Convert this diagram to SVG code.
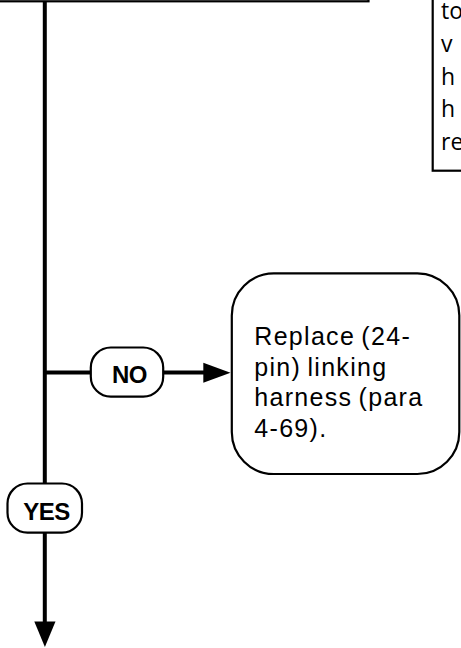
<svg xmlns="http://www.w3.org/2000/svg" width="461" height="648" viewBox="0 0 461 648">
  <defs>
    <style>
      .edge { fill: none; stroke: #000; stroke-width: 4; }
      .box { fill: #fff; stroke: #000; stroke-width: 2.2; }
      .pill { fill: #fff; stroke: #000; stroke-width: 2.2; }
      .lbl { font-family: "Liberation Sans", Arial, sans-serif; font-weight: bold; font-size: 24px; fill: #000; text-anchor: middle; letter-spacing: -0.5px; }
      .body { font-family: "Liberation Sans", Arial, sans-serif; font-size: 25px; fill: #000; letter-spacing: 1.3px; word-spacing: -2px; }
      .note { font-family: "Open Sans", "Noto Sans", sans-serif; font-size: 23px; fill: #000; }
    </style>
  </defs>

  <g id="top-box">
    <rect class="box" x="-10" y="-20" width="378.5" height="21.3" stroke-width="2.6"/>
  </g>

  <g id="note-box">
    <rect class="box" x="432.7" y="-10" width="40" height="180.7" stroke-width="2"/>
    <text class="note" x="441" y="19">to</text>
    <text class="note" x="441" y="52">v</text>
    <text class="note" x="441" y="84.5">h</text>
    <text class="note" x="441" y="117">h</text>
    <text class="note" x="441" y="150">re</text>
  </g>

  <g id="connectors">
    <line class="edge" x1="44.8" y1="1" x2="44.8" y2="623"/>
    <polygon points="34.3,621.5 55.5,621.5 44.9,647" fill="#000"/>
    <line class="edge" x1="44.8" y1="372.5" x2="205" y2="372.5"/>
    <polygon points="203.3,362.8 203.3,382.8 230.5,372.8" fill="#000"/>
  </g>

  <g id="no-label">
    <rect class="pill" x="90.8" y="347.5" width="72.4" height="49.2" rx="20" ry="20"/>
    <text class="lbl" x="129.5" y="383.3">NO</text>
  </g>

  <g id="yes-label">
    <rect class="pill" x="7.5" y="483.5" width="74.5" height="49.2" rx="20" ry="20"/>
    <text class="lbl" x="46.5" y="520">YES</text>
  </g>

  <g id="replace-box">
    <rect class="box" x="231.8" y="273.4" width="227.5" height="200.6" rx="42" ry="42"/>
    <text class="body" x="254.3" y="345">Replace (24-</text>
    <text class="body" x="254.3" y="375.5">pin) linking</text>
    <text class="body" x="254.3" y="406">harness (para</text>
    <text class="body" x="254.3" y="436.5">4-69).</text>
  </g>
</svg>
